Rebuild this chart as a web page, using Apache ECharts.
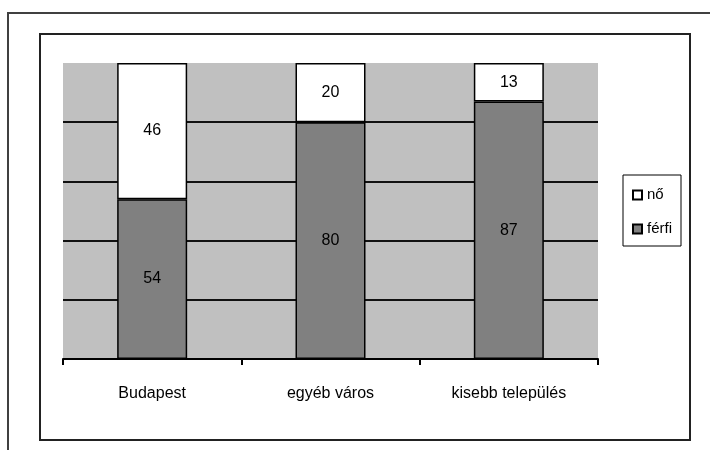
<!DOCTYPE html>
<html>
<head>
<meta charset="utf-8">
<script src="https://cdn.jsdelivr.net/npm/echarts@6/dist/echarts.min.js"></script>
<style>html,body{margin:0;padding:0;background:#fff}#c{width:710px;height:450px}</style>
</head>
<body>
<div id="c"></div>
<script>
const categories = ['Budapest', 'egyéb város', 'kisebb település'];
const ferfi = [54, 80, 87];
const no = [46, 20, 13];
const yTicks = [0, 20, 40, 60, 80, 100];

const FONT = "'Liberation Sans', Arial, sans-serif";
const chart = echarts.init(document.getElementById('c'), null, {renderer: 'canvas'});
chart.setOption({
  animation: false,
  backgroundColor: '#fff',
  graphic: [
    {type: 'rect', shape: {x: 8, y: 13, width: 720, height: 460}, style: {fill: 'none', stroke: '#404040', lineWidth: 2}},
    {type: 'rect', shape: {x: 40, y: 34, width: 650, height: 406}, style: {fill: 'none', stroke: '#222', lineWidth: 2}}
  ],
  grid: {left: 63, right: 112, top: 63, bottom: 91, show: true, backgroundColor: '#c0c0c0', borderWidth: 0},
  legend: {
    data: ['nő', 'férfi'],
    orient: 'vertical',
    left: 623, top: 175,
    padding: [12, 9, 9, 9],
    itemGap: 18,
    itemWidth: 9, itemHeight: 9,
    borderColor: '#000', borderWidth: 1,
    icon: 'rect',
    textStyle: {fontFamily: FONT, fontSize: 15, color: '#000', lineHeight: 16}
  },
  xAxis: {
    type: 'category', data: categories,
    axisLine: {lineStyle: {color: '#000', width: 2}},
    axisTick: {show: true, length: 6, lineStyle: {color: '#000', width: 2}},
    axisLabel: {fontFamily: FONT, fontSize: 16, color: '#000', margin: 27}
  },
  yAxis: {
    type: 'value', min: yTicks[0], max: yTicks[yTicks.length - 1], interval: 20,
    axisLine: {show: false}, axisTick: {show: false}, axisLabel: {show: false},
    splitLine: {lineStyle: {color: ['#111', '#111', '#111', '#111', '#111', 'rgba(0,0,0,0)'], width: 2}}
  },
  series: [
    {name: 'férfi', type: 'bar', stack: 't', data: ferfi, barWidth: 70,
     itemStyle: {color: '#808080', borderColor: '#000', borderWidth: 1.5},
     label: {show: true, position: 'inside', fontFamily: FONT, fontSize: 16, color: '#000'}},
    {name: 'nő', type: 'bar', stack: 't', data: no, barWidth: 70,
     itemStyle: {color: '#ffffff', borderColor: '#000', borderWidth: 1.5},
     label: {show: true, position: 'inside', fontFamily: FONT, fontSize: 16, color: '#000'}}
  ]
});
</script>
</body>
</html>
